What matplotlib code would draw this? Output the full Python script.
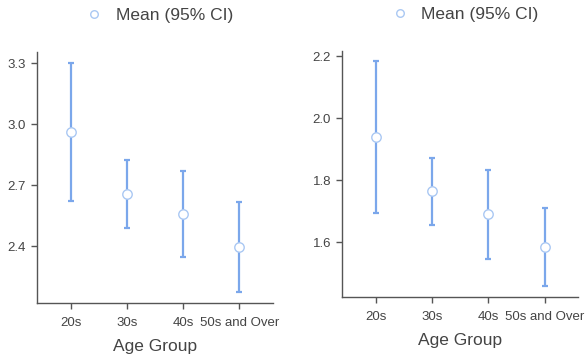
import numpy as np
import matplotlib.pyplot as plt

# Data
age_groups = ['20s', '30s', '40s', '50s and Over']

left_mean = [2.962, 2.656, 2.559, 2.397]
left_upper = [3.300, 2.821, 2.769, 2.618]
left_lower = [2.623, 2.490, 2.346, 2.175]

right_mean = [1.941, 1.764, 1.690, 1.584]
right_upper = [2.186, 1.873, 1.832, 1.710]
right_lower = [1.694, 1.655, 1.545, 1.459]

left_ticks = [2.4, 2.7, 3.0, 3.3]
right_ticks = [1.6, 1.8, 2.0, 2.2]

line_color = '#7ba7eb'
marker_edge = '#aac8f3'
text_color = '#444444'

plt.rcParams['font.family'] = ['Liberation Sans', 'DejaVu Sans']

fig = plt.figure(figsize=(5.86, 3.59), dpi=100)
ax1 = fig.add_axes([0.0631, 0.156, 0.403, 0.699])
ax2 = fig.add_axes([0.584, 0.172, 0.403, 0.687])


def draw_panel(ax, mean, upper, lower, ticks, ylim, legend_y):
    x = np.arange(len(age_groups))
    mean = np.array(mean)
    err = [mean - np.array(lower), np.array(upper) - mean]
    ax.errorbar(x, mean, yerr=err, fmt='none', ecolor=line_color,
                elinewidth=1.6, capsize=2.2, capthick=1.6, zorder=2)
    ax.plot(x, mean, 'o', markersize=6.8, markerfacecolor='white',
            markeredgecolor=marker_edge, markeredgewidth=1.0,
            label='Mean (95% CI)', zorder=3)
    ax.set_xlim(-0.6, 3.6)
    ax.set_ylim(*ylim)
    ax.set_xticks(x)
    ax.set_xticklabels(age_groups)
    ax.set_yticks(ticks)
    ax.set_yticklabels([f'{t:.1f}' for t in ticks])
    for side in ['top', 'right']:
        ax.spines[side].set_visible(False)
    for side in ['left', 'bottom']:
        ax.spines[side].set_color('#555555')
        ax.spines[side].set_linewidth(1.0)
    ax.tick_params(axis='both', colors='#555555', labelcolor=text_color,
                   labelsize=9.5, length=4, width=1.0)
    ax.tick_params(axis='x', pad=6)
    ax.tick_params(axis='y', pad=4)
    ax.set_xlabel('Age Group', fontsize=12.5, color=text_color, labelpad=7)
    ax.legend(loc='center', bbox_to_anchor=(0.50, legend_y), frameon=False,
              fontsize=12.5, labelcolor=text_color, handletextpad=0.25,
              markerscale=0.8, borderaxespad=0)


draw_panel(ax1, left_mean, left_upper, left_lower, left_ticks, (2.12, 3.354), 1.147)
draw_panel(ax2, right_mean, right_upper, right_lower, right_ticks, (1.422, 2.219), 1.145)

fig.savefig('out.png', dpi=100)
